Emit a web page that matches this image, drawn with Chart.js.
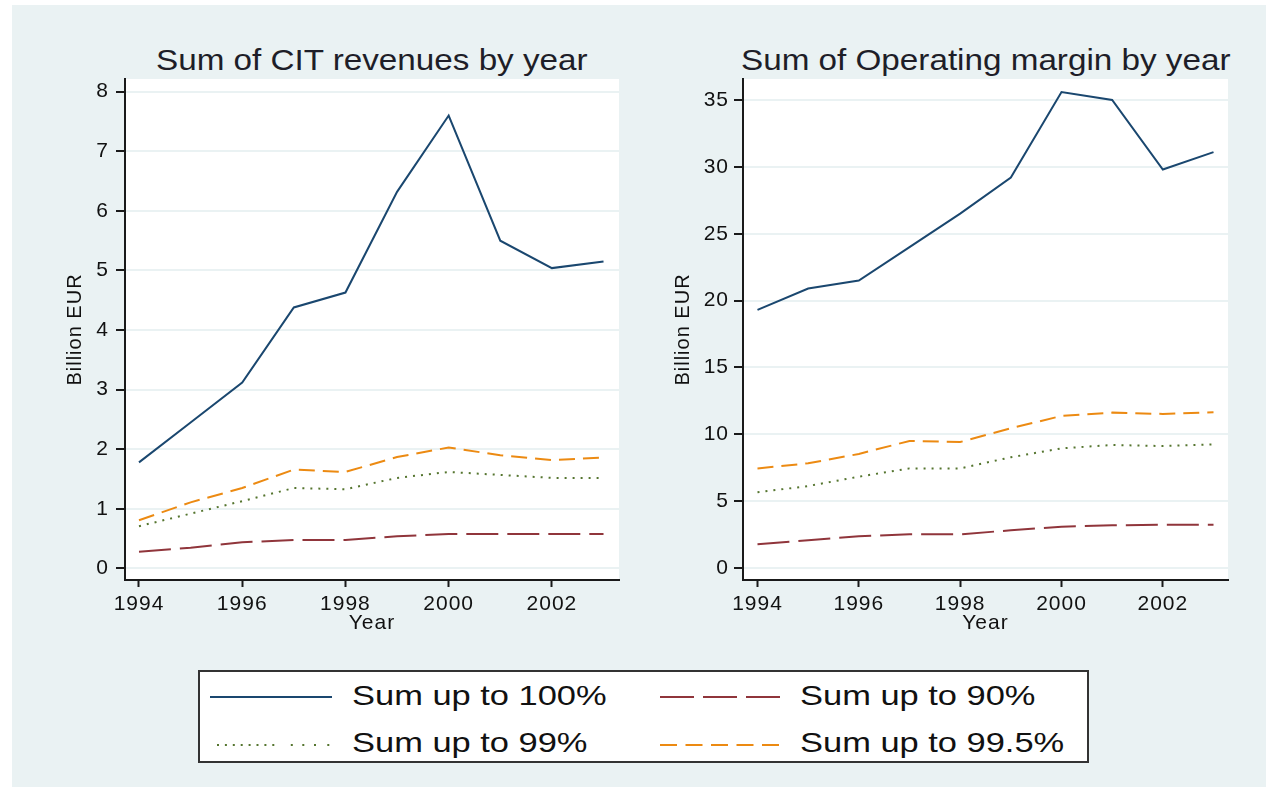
<!DOCTYPE html>
<html><head><meta charset="utf-8">
<script src="https://cdn.jsdelivr.net/npm/chart.js@4.4.1/dist/chart.umd.min.js"></script>
<style>
html,body{margin:0;padding:0;background:#fff;width:1266px;height:787px;overflow:hidden;}
#bg{position:absolute;left:12px;top:5px;width:1254px;height:782px;background:#eaf2f3;}
canvas{position:absolute;}
.t{position:absolute;font-family:'Liberation Sans',Arial,sans-serif;color:#1e1e28;white-space:nowrap;line-height:1;transform-origin:0 0;}
#legend{position:absolute;left:198px;top:670px;width:891px;height:93px;box-sizing:border-box;border:2px solid #333;background:#fff;}
svg{position:absolute;overflow:visible;}
</style></head><body>
<div id="bg"></div>
<div id="titles"></div>
<canvas id="c1" width="628" height="650" style="left:12px;top:5px"></canvas>
<canvas id="c2" width="626" height="650" style="left:640px;top:5px"></canvas>
<div id="legend"></div>
<div id="legtext"></div>
<script>
// ---- data ----
const years = [1994, 1995, 1996, 1997, 1998, 1999, 2000, 2001, 2002, 2003];
const xTicks = [1994, 1996, 1998, 2000, 2002];

const citTitle = 'Sum of CIT revenues by year';
const citYTicks = [0, 1, 2, 3, 4, 5, 6, 7, 8];
const citSum100 = [1.78, 2.45, 3.12, 4.38, 4.63, 6.32, 7.60, 5.50, 5.04, 5.15];
const citSum90  = [0.28, 0.35, 0.44, 0.48, 0.48, 0.54, 0.58, 0.58, 0.58, 0.58];
const citSum99  = [0.71, 0.92, 1.13, 1.35, 1.33, 1.52, 1.62, 1.57, 1.52, 1.52];
const citSum995 = [0.81, 1.11, 1.35, 1.66, 1.62, 1.87, 2.03, 1.90, 1.82, 1.86];

const opmTitle = 'Sum of Operating margin by year';
const opmYTicks = [0, 5, 10, 15, 20, 25, 30, 35];
const opmSum100 = [19.3, 20.9, 21.5, 24.0, 26.5, 29.2, 35.6, 35.0, 29.8, 31.1];
const opmSum90  = [1.77, 2.07, 2.37, 2.52, 2.52, 2.82, 3.09, 3.19, 3.24, 3.24];
const opmSum99  = [5.66, 6.13, 6.83, 7.45, 7.45, 8.28, 8.95, 9.20, 9.12, 9.25];
const opmSum995 = [7.45, 7.83, 8.53, 9.50, 9.42, 10.45, 11.37, 11.62, 11.52, 11.64];

const seriesLabels = ['Sum up to 100%', 'Sum up to 90%', 'Sum up to 99%', 'Sum up to 99.5%'];
const xTitle = 'Year';
const yTitle = 'Billion EUR';

// ---- styles ----
const FONT = "'Liberation Sans', Arial, sans-serif";
const colors = ['#1a476f', '#90353b', '#55752f', '#ec8a12'];
const dashes = [[], [32, 9], [2, 6], [16, 8]];
const legendDash = ['', '34 9', '2 5.9 2 5.9 2 5.9 2 5.9 2 5.9 2 5.9 2 5.9 2 16.5 2 9.5 2 9.7 2 11.3 2 200', '17 8.5'];

const plotBg = {
  id: 'plotBg',
  beforeDraw(chart) {
    const {ctx, chartArea: a} = chart;
    ctx.save();
    ctx.fillStyle = '#ffffff';
    ctx.fillRect(a.left, a.top, a.right - a.left, a.bottom - a.top);
    ctx.restore();
    ctx.letterSpacing = '1px';
  }
};

function makeChart(id, vals, yTicks, yMin, yMax, xMin, xMax, pad, yW, yTitlePad, yTickPad) {
  const datasets = vals.map((arr, i) => ({
    label: seriesLabels[i],
    data: years.map((y, k) => ({x: y, y: arr[k]})),
    borderColor: colors[i],
    borderDash: dashes[i],
    borderWidth: 2,
    pointRadius: 0,
    tension: 0,
    fill: false
  }));
  return new Chart(document.getElementById(id), {
    type: 'line',
    data: {datasets},
    plugins: [plotBg],
    options: {
      responsive: false,
      animation: false,
      layout: {padding: pad},
      plugins: {legend: {display: false}, tooltip: {enabled: false}},
      scales: {
        x: {
          type: 'linear', min: xMin, max: xMax,
          afterBuildTicks: s => { s.ticks = xTicks.map(v => ({value: v})); },
          afterFit: s => { s.height = 70; },
          ticks: {callback: v => String(v), font: {family: FONT, size: 21}, color: '#111', padding: 5, maxRotation: 0, autoSkip: false},
          grid: {drawOnChartArea: false, drawTicks: true, tickLength: 7, tickColor: '#1a1a1a', tickWidth: 2},
          border: {display: true, color: '#1a1a1a', width: 2},
          title: {display: true, text: xTitle, font: {family: FONT, size: 21}, color: '#111', padding: {top: 0, bottom: 14}}
        },
        y: {
          type: 'linear', min: yMin, max: yMax,
          afterBuildTicks: s => { s.ticks = yTicks.map(v => ({value: v})); },
          afterFit: s => { s.width = yW; },
          ticks: {callback: v => String(v), font: {family: FONT, size: 21}, color: '#111', padding: yTickPad, autoSkip: false},
          grid: {color: '#eaf2f3', lineWidth: 2, drawTicks: true, tickLength: 9, tickColor: '#1a1a1a', tickWidth: 2},
          border: {display: true, color: '#1a1a1a', width: 2},
          title: {display: true, text: yTitle, font: {family: FONT, size: 20}, color: '#111', padding: {top: yTitlePad, bottom: 0}}
        }
      }
    }
  });
}

makeChart('c1', [citSum100, citSum90, citSum99, citSum995], citYTicks, -0.193, 8.213, 1993.729, 2003.30,
  {left: 47, right: 21, top: 74, bottom: 5}, 66, 4, 7);
makeChart('c2', [opmSum100, opmSum90, opmSum99, opmSum995], opmYTicks, -0.897, 36.57, 1993.714, 2003.286,
  {left: 28, right: 38, top: 74, bottom: 5}, 75, 3.5, 5);

// ---- titles (centered over each plot region, horizontally widened like the reference) ----
const titles = document.getElementById('titles');
[[citTitle, 371.5], [opmTitle, 985.5]].forEach(([txt, cx]) => {
  const d = document.createElement('div');
  d.className = 't';
  d.style.cssText = `left:0px;top:45.5px;font-size:29px;`;
  d.textContent = txt;
  titles.appendChild(d);
  const w = d.getBoundingClientRect().width;
  const sx = 1.146;
  d.style.left = (cx - w * sx / 2) + 'px';
  d.style.transform = `scaleX(${sx})`;
});

// ---- legend ----
const lt = document.getElementById('legtext');
const legPos = [
  {lx: 210, tx: 352, ly: 697, ty: 682},
  {lx: 660, tx: 800, ly: 697, ty: 682},
  {lx: 210, tx: 352, ly: 745, ty: 728.6},
  {lx: 660, tx: 800, ly: 745, ty: 728.6}
];
legPos.forEach((p, i) => {
  const svgNS = 'http://www.w3.org/2000/svg';
  const svg = document.createElementNS(svgNS, 'svg');
  svg.setAttribute('width', 122); svg.setAttribute('height', 6);
  svg.style.left = p.lx + 'px'; svg.style.top = (p.ly - 3) + 'px';
  const ln = document.createElementNS(svgNS, 'line');
  ln.setAttribute('x1', i === 2 ? 7 : 0); ln.setAttribute('x2', 122);
  ln.setAttribute('y1', 3); ln.setAttribute('y2', 3);
  ln.setAttribute('stroke', colors[i]); ln.setAttribute('stroke-width', 2);
  if (legendDash[i]) ln.setAttribute('stroke-dasharray', legendDash[i]);
  svg.appendChild(ln);
  lt.appendChild(svg);
  const d = document.createElement('div');
  d.className = 't';
  d.style.cssText = `left:${p.tx}px;top:${p.ty}px;font-size:28px;color:#111;transform:scaleX(1.23);`;
  d.textContent = seriesLabels[i];
  lt.appendChild(d);
});
</script>
</body></html>
